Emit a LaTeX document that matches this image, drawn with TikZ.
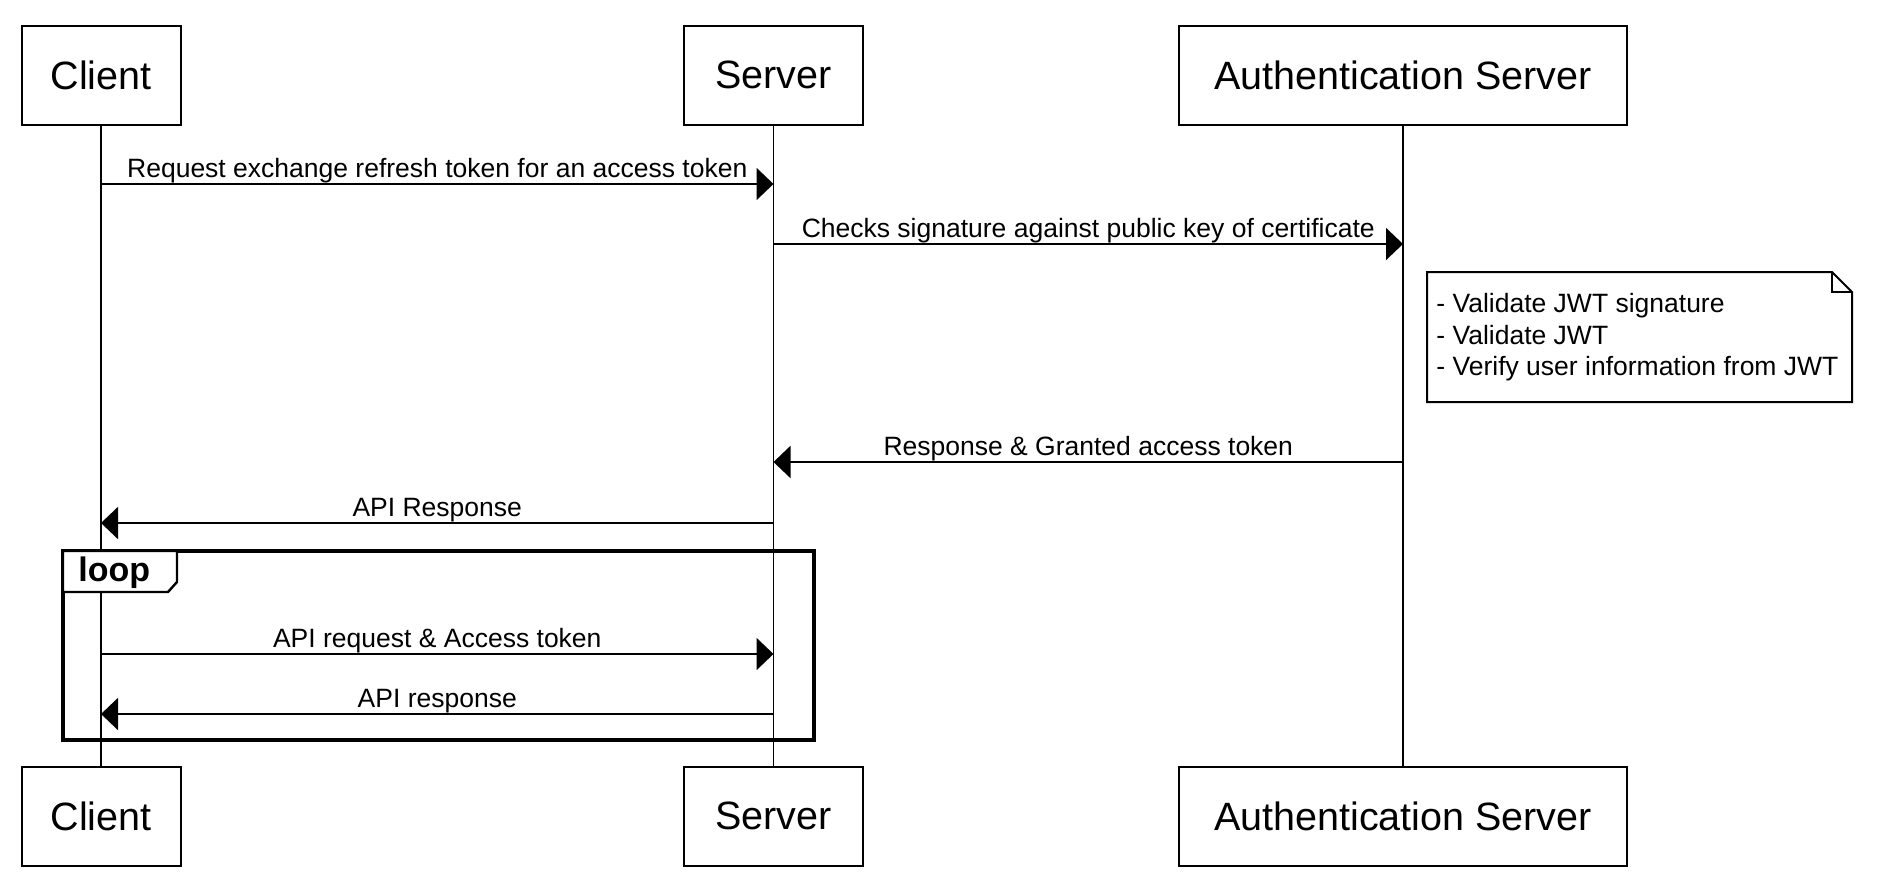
\documentclass[tikz,border=0pt]{standalone}
\usepackage{fontspec}
\setmainfont{Liberation Sans}
\usetikzlibrary{arrows.meta}

\tikzset{
  actor/.style={draw=black, line width=1pt, fill=white, inner xsep=12pt,
    minimum height=49.5pt, font=\fontsize{19.75pt}{23pt}\selectfont},
  lifeline/.style={black, line width=0.8pt},
  msg/.style={black, line width=1pt, -{Triangle[length=8.5pt,width=16pt]}},
  msglabel/.style={anchor=base, yshift=3.5pt, inner sep=0pt,
    font=\fontsize{13.25pt}{16pt}\selectfont},
  notetext/.style={align=left, inner sep=0pt, font=\fontsize{13.25pt}{15.75pt}\selectfont},
}

\begin{document}
\begin{tikzpicture}[x=0.5pt, y=-0.5pt]
\useasboundingbox (0,0) rectangle (1884,884);
% participants
\node[actor, minimum width=79.5pt] (clientTop) at (101,75) {Client};
\node[actor, minimum width=89.5pt] (serverTop) at (773.5,75) {Server};
\node[actor, minimum width=224pt] (authTop) at (1403,75) {Authentication Server};
\node[actor, minimum width=79.5pt] (clientBot) at (101,816) {Client};
\node[actor, minimum width=89.5pt] (serverBot) at (773.5,816) {Server};
\node[actor, minimum width=224pt] (authBot) at (1403,816) {Authentication Server};
% lifelines
\draw[lifeline] (clientTop) -- (clientBot);
\draw[lifeline] (serverTop) -- (serverBot);
\draw[lifeline] (authTop) -- (authBot);
% message ends
\coordinate (c1) at (101,184);   \coordinate (s1) at (773.5,184);
\coordinate (s2) at (773.5,244); \coordinate (a2) at (1403,244);
\coordinate (a3) at (1403,462);  \coordinate (s3) at (773.5,462);
\coordinate (s4) at (773.5,523); \coordinate (c4) at (101,523);
\coordinate (c5) at (101,654);   \coordinate (s5) at (773.5,654);
\coordinate (s6) at (773.5,714); \coordinate (c6) at (101,714);
% messages
\draw[msg] (c1) -- node[msglabel] {Request exchange refresh token for an access token} (s1);
\draw[msg] (s2) -- node[msglabel] {Checks signature against public key of certificate} (a2);
\draw[msg] (a3) -- node[msglabel] {Response \& Granted access token} (s3);
\draw[msg] (s4) -- node[msglabel] {API Response} (c4);
% note
\draw[black, line width=1pt, fill=white] (1427,272) -- (1832,272) -- (1852,292) -- (1852,402) -- (1427,402) -- cycle;
\draw[black, line width=1pt] (1832,272) -- (1832,292) -- (1852,292);
\node[notetext, anchor=north west] (note) at (1436,293) {- Validate JWT signature\\- Validate JWT\\- Verify user information from JWT};
% loop
\draw[black, line width=1.6pt] (63,551) rectangle (814,740);
\draw[black, line width=1.2pt, fill=white] (63,551) -- (177,551) -- (177,582) -- (168,592) -- (63,592) -- cycle;
\node[anchor=base west, inner sep=0pt, font=\bfseries\fontsize{17pt}{20pt}\selectfont] (loopLabel) at (78,581) {loop};
\draw[msg] (c5) -- node[msglabel] {API request \& Access token} (s5);
\draw[msg] (s6) -- node[msglabel] {API response} (c6);
\end{tikzpicture}
\end{document}
